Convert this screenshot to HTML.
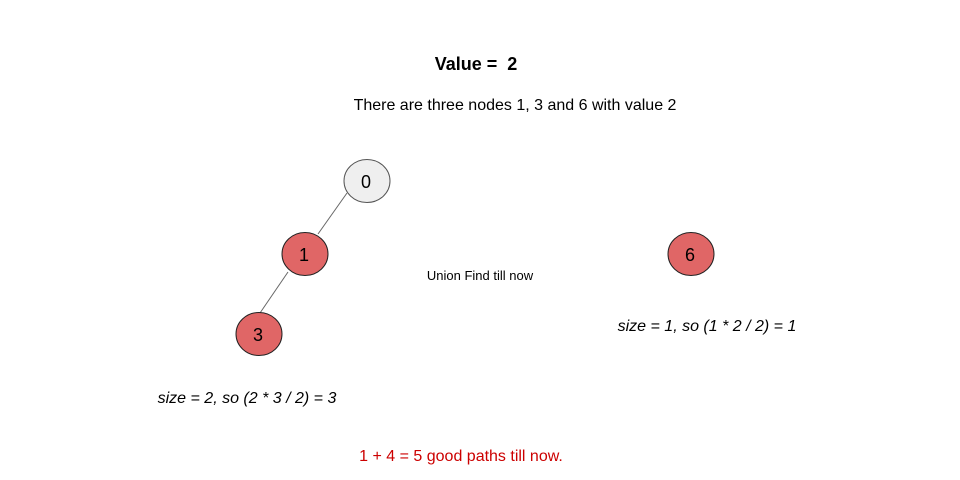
<!DOCTYPE html>
<html><head><style>body{margin:0;background:#fff}svg{display:block}text{font-family:"Liberation Sans",Arial,sans-serif}</style></head>
<body>
<svg width="960" height="480" viewBox="0 0 960 480">
<text x="476" y="70" text-anchor="middle" font-size="18" font-weight="bold">Value = &#160;2</text>
<text x="515" y="110" text-anchor="middle" font-size="16">There are three nodes 1, 3 and 6 with value 2</text>
<line x1="347" y1="193" x2="318" y2="234" stroke="#666" stroke-width="1"/>
<line x1="288" y1="272" x2="260" y2="313" stroke="#666" stroke-width="1"/>
<ellipse cx="367" cy="181" rx="23" ry="21.5" fill="#efefef" stroke="#555"/>
<text x="366" y="188" text-anchor="middle" font-size="18">0</text>
<ellipse cx="305" cy="254" rx="23" ry="21.5" fill="#e06666" stroke="#222"/>
<text x="304" y="261" text-anchor="middle" font-size="18">1</text>
<ellipse cx="259" cy="334" rx="23" ry="21.5" fill="#e06666" stroke="#222"/>
<text x="258" y="341" text-anchor="middle" font-size="18">3</text>
<ellipse cx="691" cy="254" rx="23" ry="21.5" fill="#e06666" stroke="#222"/>
<text x="690" y="261" text-anchor="middle" font-size="18">6</text>
<text x="480" y="280" text-anchor="middle" font-size="13">Union Find till now</text>
<text x="707" y="331" text-anchor="middle" font-size="16" font-style="italic">size = 1, so (1 * 2 / 2) = 1</text>
<text x="247" y="403" text-anchor="middle" font-size="16" font-style="italic">size = 2, so (2 * 3 / 2) = 3</text>
<text x="461" y="461" text-anchor="middle" font-size="16" fill="#cc0000">1 + 4 = 5 good paths till now.</text>
</svg>
</body></html>
